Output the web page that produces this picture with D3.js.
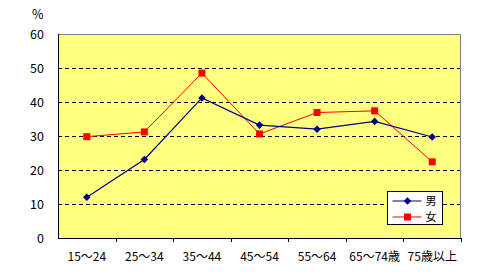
<!DOCTYPE html>
<html>
<head>
<meta charset="utf-8">
<script src="https://cdn.jsdelivr.net/npm/d3@7"></script>
<style>
  body { margin: 0; background: #fff; }
  text { font-family: "Noto Sans CJK JP", "DejaVu Sans", sans-serif; font-size: 12px; fill: #000; }
</style>
</head>
<body>
<svg width="500" height="280"></svg>
<script>
const categories = ['15～24', '25～34', '35～44', '45～54', '55～64', '65～74歳', '75歳以上'];
const menValues = [12.0, 23.1, 41.2, 33.2, 32.0, 34.3, 29.7];
const womenValues = [29.8, 31.2, 48.5, 30.6, 36.9, 37.4, 22.4];
const yTicks = [0, 10, 20, 30, 40, 50, 60];
const seriesNames = ['男', '女'];

const svg = d3.select('svg');
const margin = {left: 58, right: 39, top: 34, bottom: 42};
const width = 500 - margin.left - margin.right;
const height = 280 - margin.top - margin.bottom;

const x = d3.scaleBand().domain(categories).range([0, width]);
const y = d3.scaleLinear().domain([0, 60]).range([height, 0]);

const g = svg.append('g').attr('transform', `translate(${margin.left},${margin.top})`);

// plot background
g.append('rect').attr('width', width).attr('height', height).attr('fill', '#ffff80');

// dashed gridlines
g.selectAll('.grid').data(yTicks.filter(d => d > 0 && d < 60)).enter().append('line')
  .attr('x1', 0).attr('x2', width)
  .attr('y1', d => Math.round(y(d)) + 0.5).attr('y2', d => Math.round(y(d)) + 0.5)
  .attr('stroke', '#000').attr('stroke-dasharray', '4,3');

// top/right border (grey)
g.append('path')
  .attr('d', `M0.5,0.5H${width - 0.5}V${height}`)
  .attr('fill', 'none').attr('stroke', '#808080');

// y axis
const yAxis = g.append('g').call(d3.axisLeft(y).tickValues(yTicks).tickSize(0).tickPadding(14));
yAxis.select('.domain').attr('stroke', '#000').attr('d', `M0.5,0V${height}`);
yAxis.selectAll('text').style('font-size', '12.5px').attr('font-family', null);

// x axis
const xAxis = g.append('g').attr('transform', `translate(0,${height})`)
  .call(d3.axisBottom(x).tickSize(0).tickPadding(14));
xAxis.select('.domain').attr('stroke', '#000').attr('d', `M0,0.5H${width}`);
xAxis.selectAll('text').style('font-size', '12px').attr('font-family', null);
g.selectAll('.xtick').data(categories.slice(1).concat(['end'])).enter().append('line')
  .attr('x1', (d, i) => Math.round(x.step() * (i + 1)) + 0.5)
  .attr('x2', (d, i) => Math.round(x.step() * (i + 1)) + 0.5)
  .attr('y1', height).attr('y2', height + 4).attr('stroke', '#000');

svg.append('text').attr('x', 32).attr('y', 19).style('font-size', '12.5px').text('%');

const cx = d => x(d) + x.bandwidth() / 2;
const lineGen = vals => d3.line().x((d, i) => cx(categories[i])).y(d => y(d))(vals);

// women line
g.append('path').attr('d', lineGen(womenValues)).attr('fill', 'none').attr('stroke', '#ff0000').attr('stroke-width', 1);
// men line
g.append('path').attr('d', lineGen(menValues)).attr('fill', 'none').attr('stroke', '#000080').attr('stroke-width', 1.2);

const diamond = d3.symbol().type(d3.symbolDiamond2).size(36);
g.selectAll('.men').data(menValues).enter().append('path')
  .attr('transform', (d, i) => `translate(${cx(categories[i])},${y(d)})`)
  .attr('d', diamond).attr('fill', '#000080');

g.selectAll('.women').data(womenValues).enter().append('rect')
  .attr('x', (d, i) => cx(categories[i]) - 3.5).attr('y', d => y(d) - 3.5)
  .attr('width', 7).attr('height', 7).attr('fill', '#ff0000');

// legend
const lg = svg.append('g').attr('transform', 'translate(387.5,191.5)');
lg.append('rect').attr('width', 55).attr('height', 33).attr('fill', '#fff').attr('stroke', '#000');
const colours = ['#000080', '#ff0000'];
seriesNames.forEach((name, i) => {
  const row = lg.append('g').attr('transform', `translate(0,${9.5 + i * 16})`);
  row.append('line').attr('x1', 5).attr('x2', 34).attr('stroke', colours[i]).attr('stroke-width', 1);
  if (i === 0) row.append('path').attr('transform', 'translate(20,0)').attr('d', diamond).attr('fill', colours[i]);
  else row.append('rect').attr('x', 16.5).attr('y', -3.5).attr('width', 7).attr('height', 7).attr('fill', colours[i]);
  row.append('text').attr('x', 38).attr('dy', '0.35em').style('font-size', '11px').text(name);
});
</script>
</body>
</html>
